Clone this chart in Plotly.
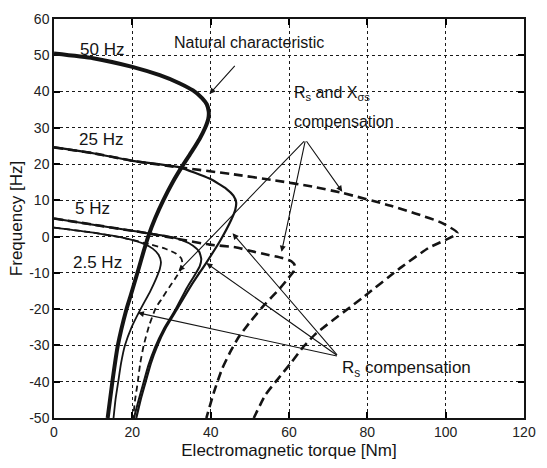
import plotly.graph_objects as go

# ---- data (torque [Nm], frequency [Hz]) ----
t_50 = [0, 10, 20, 27, 32, 35.5, 37.8, 39.0, 39.5, 39.4, 38.6, 37.2, 35.2, 32.8, 30.3, 27.9, 25.8, 24.2, 22.9, 21.7, 20.6, 19.5, 18.5, 16.3, 14.9, 13.7]
f_50 = [50.5, 49.2, 46.8, 44.5, 42.3, 40.3, 38.2, 36.5, 34.5, 32.5, 30, 27, 23.5, 19.5, 15, 10, 5, 0.5, -4, -8.5, -12.5, -16.5, -20, -30, -40, -50]

t_25 = [0, 10, 20, 32, 39.7, 44.0, 45.8, 46.5, 46.3, 45.2, 42.5, 39, 35, 31.4, 28.6, 26.4, 24.7, 23.4, 22.1, 21]
f_25 = [24.6, 23, 20.9, 19.1, 16, 13.2, 11.3, 9.5, 7.5, 4.5, -1, -7, -13.5, -20, -25, -30, -35, -40, -45, -50]

t_5 = [0, 10, 20, 28, 32.5, 35.5, 37.1, 37.6, 37.2, 36.0, 34.0, 30.8, 28.0, 25.8, 24.1, 22.8, 21.5, 20.4]
f_5 = [5, 3.3, 1.6, 0.3, -0.9, -2.5, -4.2, -6.2, -8.2, -10.5, -14, -20.5, -25.5, -30.5, -35.5, -40.5, -45.5, -50]

t_2_5 = [0, 10, 18, 22.5, 25.2, 26.7, 27.3, 27.0, 26.1, 24.6, 22.1, 19.8, 18.1, 17.1, 16.4, 15.7, 15.2]
f_2_5 = [2.5, 1.1, -0.4, -1.8, -3.3, -5.0, -7.0, -9.0, -11.5, -15, -20, -25, -30, -35, -40, -45, -50]

tc_25 = [0, 10, 20, 32, 45, 56.4, 66, 73.8, 86, 98.6, 103, 95.5, 88.7, 78.7, 67, 63.8, 60.6, 57.2, 54, 51]
fc_25 = [24.6, 23, 20.9, 19.1, 17.3, 15.5, 13.8, 12, 8.5, 4, 1, -3.2, -8.4, -16.9, -26.6, -30.2, -34.7, -39.2, -43.6, -50]

tc_5 = [0, 10, 20, 24, 32, 39.7, 46.3, 50, 54.5, 58.3, 60.6, 61.5, 61.2, 59.8, 57.5, 53.8, 50.3, 47.2, 44.9, 42.9, 40.8, 38.9]
fc_5 = [5, 3.3, 1.6, 0.9, -0.7, -2.2, -2.9, -3.9, -5.0, -5.9, -6.8, -8.0, -9.5, -11.5, -14.5, -18.7, -23.2, -27.6, -32, -36.5, -43, -50]

tc_2_5 = [0, 10, 18, 24.8, 28.6, 31.2, 32.5, 32.8, 32.3, 31.0, 29.4, 27.6, 26.0, 24.3, 22.9, 22.0, 21.4, 20.7, 20.2]
fc_2_5 = [2.5, 1.1, -0.4, -2.2, -3.4, -4.7, -6.0, -7.5, -9.2, -11.5, -14, -17, -19.6, -24.5, -30, -35, -40, -45, -50]

x_ticks = [0, 20, 40, 60, 80, 100, 120]
y_ticks = [-50, -40, -30, -20, -10, 0, 10, 20, 30, 40, 50, 60]

# labels: (text, torque, frequency)
freq_labels = [("50 Hz", 12.2, 51.6), ("25 Hz", 11.9, 26.9), ("5 Hz", 9.9, 7.7), ("2.5 Hz", 11.2, -7.1)]

# arrows: tail -> tip
arrow_natural = [((46.5, 47.5), (39.7, 39.3))]
arrow_rsx = [((64.2, 26.7), (73.6, 12.4)), ((64.2, 26.7), (58.1, -4.2)), ((64.2, 26.7), (31.8, -9.5))]
arrow_rs = [((72.6, -33.0), (38.9, -7.3)), ((72.6, -33.0), (45.6, 0.9)), ((72.6, -33.0), (21.4, -21.0))]

INK = "#141414"
FONT = "Liberation Sans, Arial, sans-serif"

fig = go.Figure()

def add(t, f, width, dash="solid"):
    fig.add_trace(go.Scatter(x=t, y=f, mode="lines",
                             line=dict(color=INK, width=width, dash=dash, shape="spline", smoothing=0.5),
                             showlegend=False, hoverinfo="skip"))

add(tc_25, fc_25, 2.6, "9px,5px")
add(tc_5, fc_5, 2.6, "9px,5px")
add(tc_2_5, fc_2_5, 1.8, "6px,4px")
add(t_2_5, f_2_5, 1.8)
add(t_5, f_5, 2.0)
add(t_25, f_25, 2.2)
add(t_50, f_50, 4.0)

ann = []
for txt, x, y in freq_labels:
    ann.append(dict(x=x, y=y, text=txt, showarrow=False, font=dict(size=17, color=INK, family=FONT)))

ann.append(dict(x=30.0, y=53.6, text="Natural characteristic", showarrow=False, xanchor="left",
                font=dict(size=16, color=INK, family=FONT)))
ann.append(dict(x=60.8, y=39.6, text="R<sub>s</sub> and X<sub>σs</sub>", showarrow=False, xanchor="left",
                font=dict(size=16, color=INK, family=FONT)))
ann.append(dict(x=60.8, y=31.7, text="compensation", showarrow=False, xanchor="left",
                font=dict(size=16, color=INK, family=FONT)))
ann.append(dict(x=73.1, y=-36.6, text="R<sub>s</sub> compensation", showarrow=False, xanchor="left",
                font=dict(size=17, color=INK, family=FONT)))

for group in (arrow_natural, arrow_rsx, arrow_rs):
    for (tx, ty), (hx, hy) in group:
        ann.append(dict(x=hx, y=hy, ax=tx, ay=ty, xref="x", yref="y", axref="x", ayref="y",
                        text="", showarrow=True, arrowhead=2, arrowsize=1.1, arrowwidth=1.1,
                        arrowcolor=INK, standoff=0, startstandoff=0))

axis_common = dict(showline=True, linecolor=INK, linewidth=1.5, mirror="allticks", ticks="inside",
                   ticklen=6, tickwidth=1.5, tickcolor="black",
                   showgrid=True, gridcolor="#1a1a1a", gridwidth=1.4, griddash="dot",
                   zeroline=False, layer="below traces",
                   tickfont=dict(size=14, color="#222", family=FONT))

fig.update_layout(
    width=547, height=468,
    margin=dict(l=54, r=11, t=11, b=48),
    paper_bgcolor="white", plot_bgcolor="white",
    xaxis=dict(range=[0, 120], tickvals=x_ticks, ticktext=[str(v) for v in x_ticks],
               title=dict(text="Electromagnetic torque [Nm]", standoff=6,
                          font=dict(size=17, color=INK, family=FONT)), **axis_common),
    yaxis=dict(range=[-50, 60], tickvals=y_ticks, ticktext=[str(v) for v in y_ticks],
               title=dict(text="Frequency [Hz]", standoff=2,
                          font=dict(size=17, color=INK, family=FONT)), **axis_common),
    annotations=ann,
)

fig.write_html("out.html")
